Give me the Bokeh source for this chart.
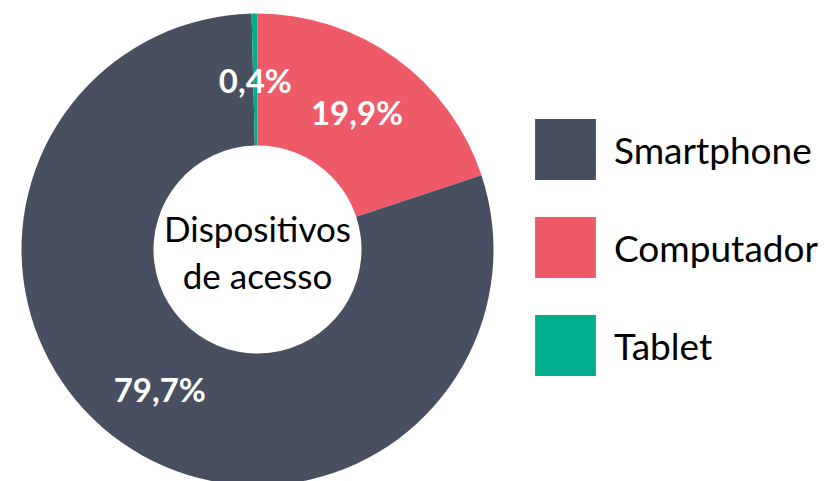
import numpy as np
from bokeh.plotting import figure
from bokeh.models import Range1d, Legend, LegendItem, ColumnDataSource
from bokeh.core.properties import value
from bokeh.embed import file_html
from bokeh.resources import INLINE

# Data (clockwise from 12 o'clock)
categories = ["Computador", "Smartphone", "Tablet"]
values = [19.9, 79.7, 0.4]
pct_labels = ["19,9%", "79,7%", "0,4%"]
colors = ["#EF5A68", "#474F61", "#00AE8B"]
legend_order = ["Smartphone", "Computador", "Tablet"]
center_title = "Dispositivos\nde acesso"

# Layout (screen-pixel-like data coordinates)
W, H = 831, 481
cx, cy = 257, -249
r_in, r_out = 104, 236

vals = np.array(values, dtype=float)
cum = np.concatenate([[0], np.cumsum(vals)]) / vals.sum()
starts = np.pi / 2 - 2 * np.pi * cum[:-1]
ends = np.pi / 2 - 2 * np.pi * cum[1:]
mids = (starts + ends) / 2
r_lab = (r_in + r_out) / 2

src = ColumnDataSource(dict(
    cat=categories, start=starts, end=ends, color=colors,
    lx=cx + r_lab * np.cos(mids), ly=cy + r_lab * np.sin(mids), lab=pct_labels,
))

p = figure(width=W, height=H, output_backend="svg", toolbar_location=None,
           x_range=Range1d(0, W), y_range=Range1d(-H, 0),
           min_border=0)
p.axis.visible = False
p.grid.visible = False
p.outline_line_color = None

r = p.annular_wedge(x=cx, y=cy, inner_radius=r_in, outer_radius=r_out,
                    start_angle="start", end_angle="end", direction="clock",
                    fill_color="color", line_color=None, source=src)

p.text(x="lx", y="ly", text="lab", source=src, text_color="white",
       text_font=value("Lato"), text_font_style="bold", text_font_size="33px",
       text_align="center", text_baseline="middle")

p.text(x=[cx], y=[cy - 2], text=[center_title], text_color="black",
       text_font=value("Lato"), text_font_size="35px", text_align="center",
       text_baseline="middle", text_line_height=1.12)

items = [LegendItem(label=name, renderers=[r], index=categories.index(name))
         for name in legend_order]
legend = Legend(items=items, location=(527, 98), glyph_width=76, glyph_height=76,
                spacing=22, padding=0, margin=0, label_standoff=11,
                label_text_font="Lato", label_text_font_size="37px",
                label_text_color="black",
                border_line_color=None, background_fill_alpha=0)
p.add_layout(legend)

open("out.html", "w").write(file_html(p, INLINE))
